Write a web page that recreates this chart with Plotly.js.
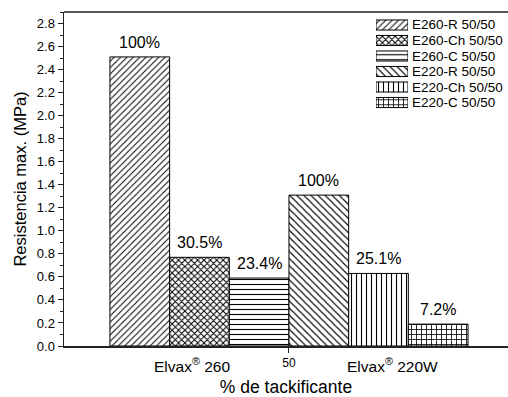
<!DOCTYPE html>
<html>
<head>
<meta charset="utf-8">
<script src="https://cdn.plot.ly/plotly-3.0.1.min.js"></script>
<style>html,body{margin:0;padding:0;background:#fff;}#chart{width:508px;height:397px;}</style>
</head>
<body>
<div id="chart"></div>
<script>
const seriesNames = ["E260-R 50/50", "E260-Ch 50/50", "E260-C 50/50", "E220-R 50/50", "E220-Ch 50/50", "E220-C 50/50"];
const seriesValues = [2.51, 0.77, 0.59, 1.31, 0.63, 0.19];
const barLabels = ["100%", "30.5%", "23.4%", "100%", "25.1%", "7.2%"];
const patterns = ["/", "x", "-", "\\", "|", "+"];
const groupLabels = ["Elvax<sup>®</sup> 260", "Elvax<sup>®</sup> 220W"];
const groupPositions = [0.88, 4.23];
const xTickLabels = ["50"];
const yTicks = [0, 0.2, 0.4, 0.6, 0.8, 1.0, 1.2, 1.4, 1.6, 1.8, 2.0, 2.2, 2.4, 2.6, 2.8];

const FONT = "Liberation Sans, Arial, sans-serif";
const patSize = [4.5, 4.5, 5, 5, 5, 5];
const patSolidity = [0.22, 0.4, 0.22, 0.22, 0.22, 0.3];
function pat(i) {
  return {shape: patterns[i], fgcolor: "#000", bgcolor: "#fff",
          size: patSize[i], solidity: patSolidity[i], fillmode: "replace"};
}

// main bars
const traces = seriesNames.map((name, i) => ({
  type: "bar",
  name: name,
  x: [i],
  y: [seriesValues[i]],
  width: [1],
  showlegend: false,
  marker: {color: "#fff", line: {color: "#000", width: 1}, pattern: pat(i)},
  hoverinfo: "skip"
}));

// legend swatches (drawn on a small inset axis pair)
seriesNames.forEach((name, i) => {
  traces.push({
    type: "bar", orientation: "h", name: name,
    x: [1], y: [i], width: [0.65], base: 0,
    xaxis: "x2", yaxis: "y2", showlegend: false,
    marker: {color: "#fff", line: {color: "#000", width: 1}, pattern: pat(i)},
    hoverinfo: "skip"
  });
});

const barAnnotations = barLabels.map((t, i) => ({
  x: i, y: seriesValues[i], xref: "x", yref: "y", yanchor: "bottom", yshift: 4,
  text: t, showarrow: false, font: {family: FONT, size: 16, color: "#000"}
}));
const groupAnnotations = groupLabels.map((t, k) => ({
  x: groupPositions[k], y: 0, xref: "x", yref: "paper", yanchor: "middle", yshift: -19,
  text: t, showarrow: false, font: {family: FONT, size: 15.5, color: "#000"}
}));
const legendAnnotations = seriesNames.map((t, i) => ({
  x: 1, y: i, xref: "x2", yref: "y2", xanchor: "left", yanchor: "middle", xshift: 3, borderpad: 0,
  text: t, showarrow: false, font: {family: FONT, size: 13.5, color: "#000"}
}));

const layout = {
  width: 508, height: 397,
  margin: {l: 64, r: 0, t: 12, b: 51},
  paper_bgcolor: "#fff", plot_bgcolor: "#fff",
  barmode: "overlay",
  showlegend: false,
  font: {family: FONT, color: "#000"},
  xaxis: {
    domain: [0, 1],
    range: [-1.27, 6.17], showgrid: false, zeroline: false,
    showline: true, linecolor: "#222", linewidth: 1.5,
    tickvals: [2.5], ticktext: xTickLabels, ticks: "outside", ticklen: 5, tickcolor: "#222",
    tickfont: {family: FONT, size: 12},
    title: {text: "% de tackificante", font: {family: FONT, size: 17.5}, standoff: 12}
  },
  yaxis: {
    domain: [0, 1],
    range: [0, 2.9], showgrid: false, zeroline: false,
    showline: true, linecolor: "#222", linewidth: 1.5,
    tickvals: yTicks, tickformat: ".1f", ticks: "outside", ticklen: 5, tickcolor: "#222",
    tickfont: {family: FONT, size: 13},
    minor: {dtick: 0.1, ticks: "outside", ticklen: 3, tickcolor: "#222"},
    title: {text: "Resistencia max. (MPa)", font: {family: FONT, size: 16.5}, standoff: 6}
  },
  xaxis2: {domain: [0.7027, 0.7748], range: [0, 1], anchor: "y2", visible: false, fixedrange: true},
  yaxis2: {domain: [0.7058, 0.9843], range: [5.5, -0.5], anchor: "x2", visible: false, fixedrange: true},
  shapes: [{type: "line", xref: "paper", yref: "paper", x0: 0, x1: 1, y0: 1, y1: 1, line: {color: "#222", width: 1.5}}],
  annotations: barAnnotations.concat(groupAnnotations, legendAnnotations)
};

Plotly.newPlot("chart", traces, layout, {staticPlot: true, displayModeBar: false});
</script>
</body>
</html>
